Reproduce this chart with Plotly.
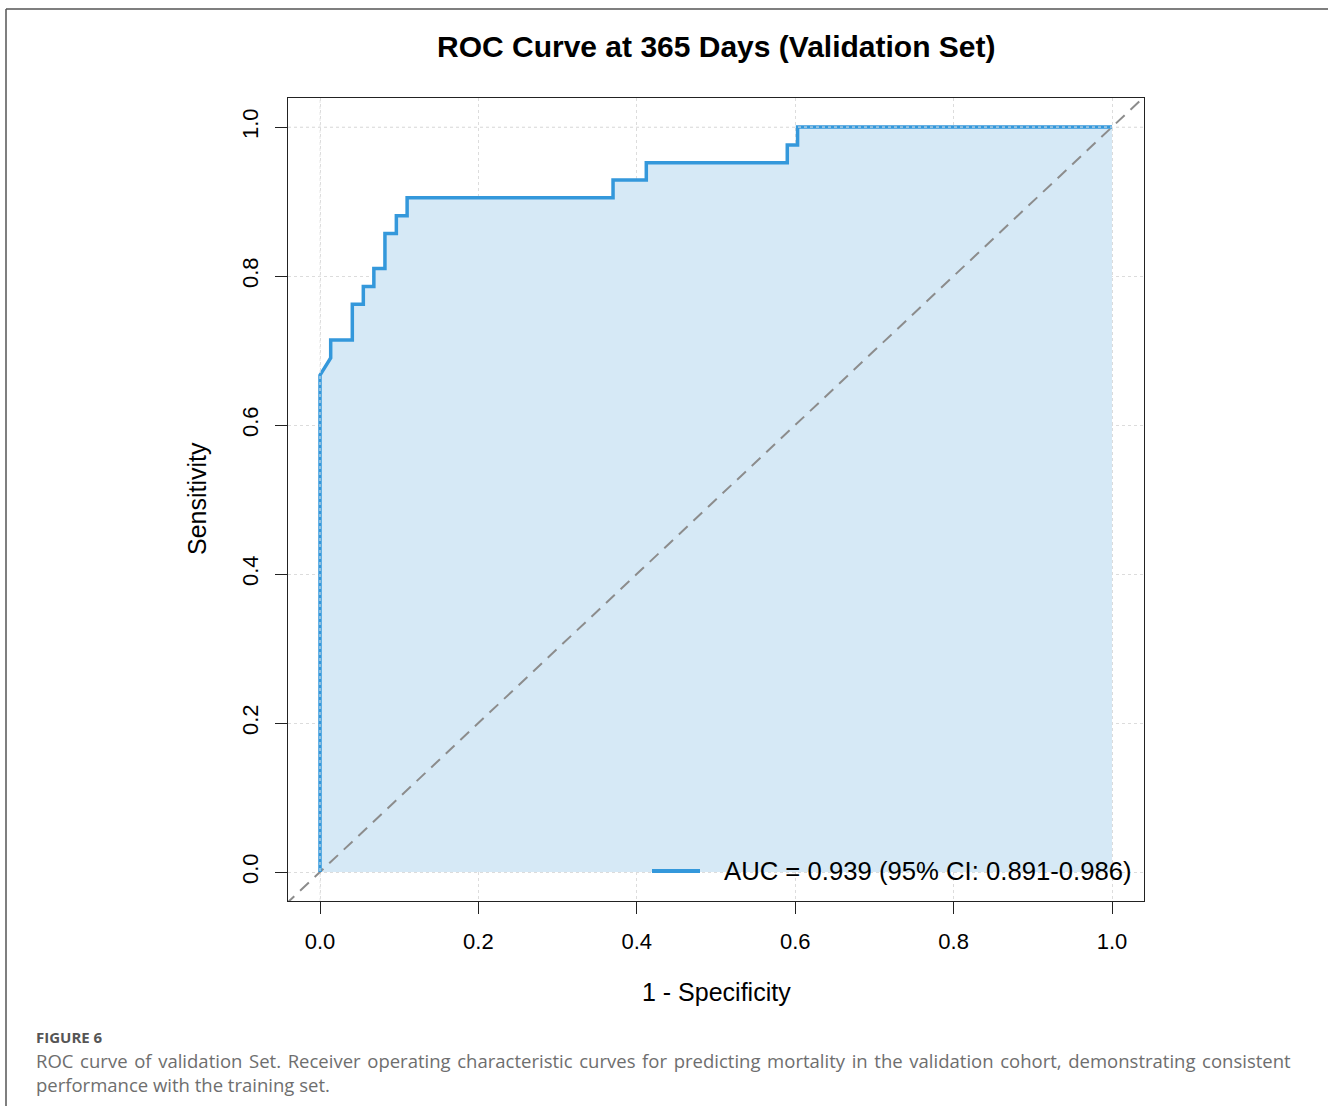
import plotly.graph_objects as go

# ROC coordinates (1 - specificity, sensitivity) for the validation set
fpr = [0.0, 0.0, 0.0135, 0.0135, 0.0408, 0.0408, 0.0547, 0.0547, 0.068, 0.068,
       0.082, 0.082, 0.0964, 0.0964, 0.110, 0.110, 0.370, 0.370, 0.412, 0.412,
       0.590, 0.590, 0.603, 0.603, 1.0]
tpr = [0.0, 0.667, 0.690, 0.714, 0.714, 0.762, 0.762, 0.786, 0.786, 0.810,
       0.810, 0.857, 0.857, 0.881, 0.881, 0.905, 0.905, 0.929, 0.929, 0.952,
       0.952, 0.976, 0.976, 1.0, 1.0]

auc_label = "AUC = 0.939 (95% CI: 0.891-0.986)"
tick_vals = [0.0, 0.2, 0.4, 0.6, 0.8, 1.0]
tick_text = ["0.0", "0.2", "0.4", "0.6", "0.8", "1.0"]

caption_line1 = ("ROC curve of validation Set. Receiver operating characteristic curves for "
                 "predicting mortality in the validation cohort, demonstrating consistent")
caption_line2 = "performance with the training set."

LINE_BLUE = "#3498db"
FILL_BLUE = "#d6e9f6"
FONT = "Liberation Sans, Arial, sans-serif"
CAP_FONT = "Open Sans, sans-serif"

W, H = 1328, 1106
L, R, T, B = 288, 184, 98, 205
PW, PH = W - L - R, H - T - B


def px(x):
    return (x - L) / PW


def py(y):
    return (H - B - y) / PH


def justify(line):
    # widen the inter-word gaps slightly so the first caption line runs full width
    return line.replace(" ", " \u200a")


fig = go.Figure()

# shaded area under the curve
fig.add_trace(go.Scatter(x=fpr, y=tpr, mode="lines", fill="tozeroy",
                         fillcolor=FILL_BLUE, line=dict(width=0),
                         hoverinfo="skip", showlegend=False))
# chance line
fig.add_trace(go.Scatter(x=[-1, 2], y=[-1, 2], mode="lines",
                         line=dict(color="#8c8c8c", width=2, dash="12px,8px"),
                         hoverinfo="skip", showlegend=False))
# ROC curve
fig.add_trace(go.Scatter(x=fpr, y=tpr, mode="lines",
                         line=dict(color=LINE_BLUE, width=3.5),
                         name=auc_label, showlegend=False))

axis_common = dict(
    tickvals=tick_vals, ticktext=tick_text,
    showgrid=True, gridcolor="#dcdcdc", gridwidth=1, griddash="dot",
    zeroline=False, showline=True, linecolor="#222222", linewidth=1.3,
    mirror=True, ticks="outside", ticklen=12, tickcolor="#222222", tickwidth=1.3,
    ticklabelstandoff=8,
    tickfont=dict(family=FONT, size=22, color="black"),
)

fig.update_xaxes(range=[-0.0404, 1.0404], **axis_common)
fig.update_yaxes(range=[-0.0389, 1.039], tickangle=-90, **axis_common)

shapes = []
# boundary grid lines at 0 and 1 drawn over the curve
shapes.append(dict(type="line", xref="x", yref="paper", x0=0, x1=0, y0=0, y1=1,
                   line=dict(color="#e6e6e6", width=1, dash="dot"), layer="above"))
shapes.append(dict(type="line", xref="paper", yref="y", x0=0, x1=1, y0=1, y1=1,
                   line=dict(color="#e6e6e6", width=1, dash="dot"), layer="above"))
# legend key
shapes.append(dict(type="line", xref="paper", yref="paper",
                   x0=px(652), x1=px(700), y0=py(871), y1=py(871),
                   line=dict(color=LINE_BLUE, width=4)))
# figure card border (left and top)
shapes.append(dict(type="line", xref="paper", yref="paper",
                   x0=px(6), x1=px(6), y0=py(9), y1=py(1110),
                   line=dict(color="#555555", width=1.5)))
shapes.append(dict(type="line", xref="paper", yref="paper",
                   x0=px(6), x1=px(1340), y0=py(9), y1=py(9),
                   line=dict(color="#555555", width=1.5)))

annotations = [
    dict(text="<b>ROC Curve at 365 Days (Validation Set)</b>", x=0.5, y=py(47),
         xref="paper", yref="paper", showarrow=False, xanchor="center", yanchor="middle",
         font=dict(family=FONT, size=30, color="black")),
    dict(text="1 - Specificity", x=0.5, y=py(992), xref="paper", yref="paper",
         showarrow=False, xanchor="center", yanchor="middle",
         font=dict(family=FONT, size=25, color="black")),
    dict(text="Sensitivity", x=px(197), y=py(499), xref="paper", yref="paper",
         showarrow=False, xanchor="center", yanchor="middle", textangle=-90,
         font=dict(family=FONT, size=25, color="black")),
    dict(text=auc_label, x=px(722), y=py(871), xref="paper", yref="paper",
         showarrow=False, xanchor="left", yanchor="middle",
         font=dict(family=FONT, size=25.7, color="black")),
    dict(text="<b>FIGURE 6</b>", x=px(34), y=py(1037), xref="paper", yref="paper",
         showarrow=False, xanchor="left", yanchor="middle",
         font=dict(family=CAP_FONT, size=15, color="#555555")),
    dict(text=justify(caption_line1),
         x=px(34), y=py(1060), xref="paper", yref="paper",
         showarrow=False, xanchor="left", yanchor="middle",
         font=dict(family=CAP_FONT, size=18.5, color="#6e6e6e")),
    dict(text=caption_line2,
         x=px(34), y=py(1084), xref="paper", yref="paper",
         showarrow=False, xanchor="left", yanchor="middle",
         font=dict(family=CAP_FONT, size=18.5, color="#6e6e6e")),
]

fig.update_layout(
    width=W, height=H,
    margin=dict(l=L, r=R, t=T, b=B, autoexpand=False),
    paper_bgcolor="white", plot_bgcolor="white",
    shapes=shapes, annotations=annotations,
    showlegend=False,
)

fig.write_html("out.html")
